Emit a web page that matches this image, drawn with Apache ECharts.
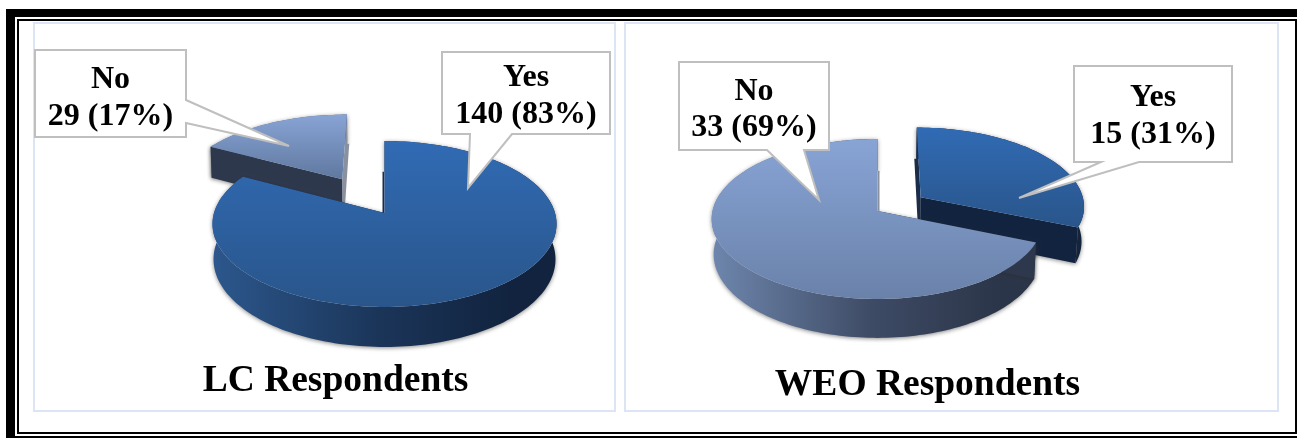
<!DOCTYPE html>
<html>
<head>
<meta charset="utf-8">
<style>html,body{margin:0;padding:0;background:#fff}#chart{width:1297px;height:438px}</style>
<script src="https://cdn.jsdelivr.net/npm/echarts@6/dist/echarts.min.js"></script>
</head>
<body>
<div id="chart"></div>
<script>
// Answers per respondent group, clockwise from twelve o'clock
const answers = ['Yes', 'No'];
const lcValues = [140, 29];
const weoValues = [15, 33];
const groupTitles = ['LC Respondents', 'WEO Respondents'];

const FONT = '"Liberation Serif", "Times New Roman", serif';
const BLUE = {top: ['#316bb4', '#29558a'], wall: ['#2c578c', '#1b3559', '#11233e'], face: '#12233f', edge: '#1a2c48'};
const SLATE = {top: ['#88a4d5', '#6a82aa'], wall: ['#6e86ad', '#3e4b65', '#2b3549'], face: '#2e384d', edge: '#8a919e'};

// Projection of each pie: ground-plane circle seen in perspective
const pies = [
  {values: lcValues, cx: 384.5, cy: 213, R: 170.5, k: 81.5, p: 0.1325, h: 34.7, taper: 0.006,
   explode: [0, 0.51], styles: [BLUE, SLATE], topEnds: [null, ['#88a4d5', '#5f789f']]},
  {values: weoValues, cx: 877.5, cy: 211, R: 165, k: 79.2, p: 0.1, h: 35, taper: 0.012,
   explode: [0.32, 0], styles: [BLUE, SLATE], topEnds: [null, null]}
];

// Callout outlines: box corners with the pointer inserted into one edge
const callouts = [
  {pie: 0, item: 1, box: [35, 50, 186, 137], pointer: [[186, 100], [289, 146], [186, 123]], edge: 'right', textY: [80, 117]},
  {pie: 0, item: 0, box: [442, 52, 610, 134], pointer: [[512, 134], [468, 188], [470, 134]], edge: 'bottom', textY: [78, 115]},
  {pie: 1, item: 1, box: [679, 62, 829, 150], pointer: [[804, 150], [819, 200], [767, 150]], edge: 'bottom', textY: [92, 128]},
  {pie: 1, item: 0, box: [1074, 66, 1232, 162], pointer: [[1139, 162], [1019, 198], [1101, 162]], edge: 'bottom', textY: [98, 135]}
];

function project(pie, u, v, lift) {
  const d = 1 - pie.p * v;
  const scale = 1 - pie.taper * lift;
  return [pie.cx + pie.R * u / d * scale, pie.cy + pie.k * v / d + lift * pie.h / d];
}

function sliceAngles(values) {
  const total = values.reduce((a, b) => a + b, 0);
  let acc = 0;
  return values.map(v => {
    const start = acc / total * 2 * Math.PI;
    acc += v;
    return [start, acc / total * 2 * Math.PI];
  });
}

function vertical(colors) {
  return new echarts.graphic.LinearGradient(0, 0, 0, 1, [
    {offset: 0, color: colors[0]}, {offset: 1, color: colors[1]}
  ]);
}

function renderSlice(pie, item) {
  const [a0, a1] = sliceAngles(pie.values)[item];
  const mid = (a0 + a1) / 2;
  const e = pie.explode[item];
  const ou = Math.sin(mid) * e, ov = -Math.cos(mid) * e;
  const style = pie.styles[item];
  const rim = [];
  const steps = Math.ceil((a1 - a0) / (Math.PI / 120));
  for (let i = 0; i <= steps; i++) {
    const a = a0 + (a1 - a0) * i / steps;
    rim.push([ou + Math.sin(a), ov - Math.cos(a)]);
  }
  const apex = [ou, ov];
  const top = [apex].concat(rim).map(q => project(pie, q[0], q[1], 0));
  const wallTop = rim.map(q => project(pie, q[0], q[1], 0));
  const wallBottom = rim.map(q => project(pie, q[0], q[1], 1)).reverse();
  const shadow = {shadowBlur: 4, shadowColor: 'rgba(40,40,40,0.55)', shadowOffsetY: 1};

  // A radial cut face; the near-vertical ones only peek out past the lower rim
  const face = (q, a, side) => {
    const dx = side * 2 * Math.pow(Math.abs(Math.cos(a)), 4);
    const A = project(pie, apex[0], apex[1], 0), B = project(pie, q[0], q[1], 0);
    const C = project(pie, q[0], q[1], 1), D = project(pie, apex[0], apex[1], 1);
    const upright = dx !== 0 && Math.abs(Math.cos(a)) > 0.98;
    return {
      type: 'polygon',
      shape: {points: [A, B, C, [C[0] + dx, C[1]], [D[0] + dx, D[1]], D]},
      style: upright ? {fill: style.edge} : Object.assign({fill: style.face}, shadow)
    };
  };

  const wallGradient = new echarts.graphic.LinearGradient(
    pie.cx - pie.R, 0, pie.cx + pie.R * 0.75, 0,
    [{offset: 0, color: style.wall[0]}, {offset: 0.55, color: style.wall[1]}, {offset: 1, color: style.wall[2]}],
    true
  );

  return {
    type: 'group',
    children: [
      {type: 'polygon', shape: {points: wallTop.concat(wallBottom)},
       style: Object.assign({fill: wallGradient}, shadow)},
      face(rim[0], a0, -1),
      face(rim[rim.length - 1], a1, 1),
      {type: 'polygon', shape: {points: top},
       style: {fill: vertical(pie.topEnds[item] || style.top)}}
    ]
  };
}

function pieSeries(pie) {
  // Exploded slices sit behind the rest, so they are painted first
  const order = pie.values.map((_, i) => i).sort((a, b) => pie.explode[b] - pie.explode[a]);
  return {
    type: 'custom',
    coordinateSystem: 'none',
    silent: true,
    z: 2,
    data: order.map(i => ({name: answers[i], value: pie.values[i]})),
    renderItem: params => renderSlice(pie, order[params.dataIndex])
  };
}

function calloutPoints(c) {
  const [x0, y0, x1, y1] = c.box;
  if (c.edge === 'right') {
    return [[x0, y0], [x1, y0]].concat(c.pointer, [[x1, y1], [x0, y1]]);
  }
  return [[x0, y0], [x1, y0], [x1, y1]].concat(c.pointer, [[x0, y1]]);
}

const calloutSeries = {
  type: 'custom',
  coordinateSystem: 'none',
  silent: true,
  z: 5,
  data: callouts.map(c => pies[c.pie].values[c.item]),
  renderItem: params => {
    const c = callouts[params.dataIndex];
    const values = pies[c.pie].values;
    const total = values.reduce((a, b) => a + b, 0);
    const value = values[c.item];
    const cx = (c.box[0] + c.box[2]) / 2;
    const textStyle = {fill: '#000', font: 'bold 32px ' + FONT, textAlign: 'center', textVerticalAlign: 'middle'};
    return {
      type: 'group',
      children: [
        {type: 'polygon', shape: {points: calloutPoints(c)},
         style: {fill: '#fff', stroke: '#bfbfbf', lineWidth: 2}},
        {type: 'text', style: Object.assign({x: cx, y: c.textY[0], text: answers[c.item]}, textStyle)},
        {type: 'text', style: Object.assign({x: cx, y: c.textY[1],
          text: value + ' (' + Math.round(value / total * 100) + '%)'}, textStyle)}
      ]
    };
  }
};

// Page frame and the two pale chart panels
const frame = [
  {x: 6, y: 9, width: 1291, height: 8},
  {x: 6, y: 9, width: 9, height: 429},
  {x: 6, y: 436, width: 1291, height: 2},
  {x: 17, y: 19, width: 1280, height: 2},
  {x: 17, y: 19, width: 2, height: 415},
  {x: 17, y: 432, width: 1280, height: 2},
  {x: 1295, y: 19, width: 2, height: 415}
].map(shape => ({type: 'rect', shape, style: {fill: '#000'}, z: 1, silent: true}));

const panels = [
  {x: 34, y: 23, width: 581, height: 388},
  {x: 625, y: 23, width: 653, height: 388}
].map(shape => ({type: 'rect', shape, style: {fill: '#fff', stroke: '#dbe5f6', lineWidth: 2}, z: 0, silent: true}));

const titlePlacement = [{x: 335.5, y: 381}, {x: 927.5, y: 385}];

const chart = echarts.init(document.getElementById('chart'), null, {renderer: 'canvas'});
chart.setOption({
  animation: false,
  backgroundColor: '#fff',
  title: groupTitles.map((text, i) => ({
    text,
    left: titlePlacement[i].x,
    top: titlePlacement[i].y - 22,
    textAlign: 'center',
    padding: 0,
    textStyle: {fontFamily: FONT, fontWeight: 'bold', fontSize: 37.5, color: '#000', lineHeight: 44}
  })),
  graphic: panels.concat(frame),
  series: pies.map(pieSeries).concat(calloutSeries)
});
</script>
</body>
</html>
